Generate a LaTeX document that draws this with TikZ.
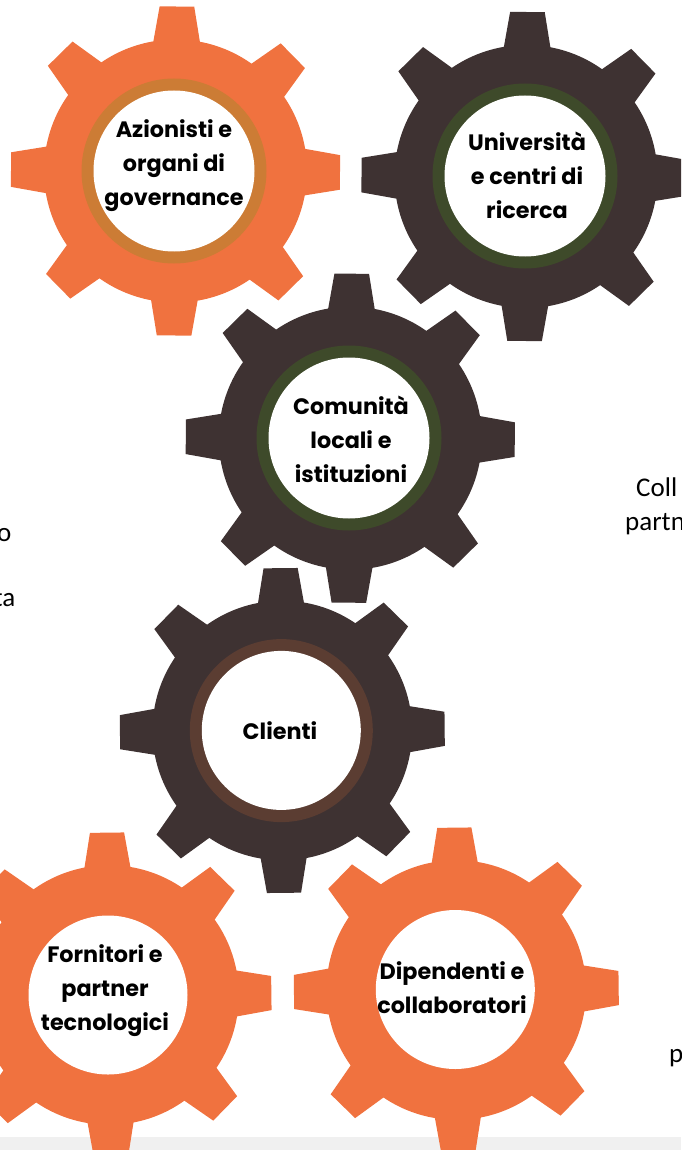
\documentclass[tikz,border=0pt]{standalone}
\usepackage{fontspec}
\setmainfont{Carlito}
\newfontfamily\labelfont{Poppins}[UprightFont=* Bold]
\definecolor{gearorange}{HTML}{F0723F}
\definecolor{geardark}{HTML}{3E3232}
\definecolor{ringamber}{HTML}{CC7C35}
\definecolor{ringgreen}{HTML}{3E4A2A}
\definecolor{ringbrown}{HTML}{5B3D32}
\definecolor{bandgrey}{HTML}{F0F0F0}
\tikzset{
  hub/.style={circle,fill=white,inner sep=0pt,minimum size=161pt},
  smallhub/.style={hub,minimum size=159pt},
  gearlabel/.style={font=\labelfont\fontsize{22.3}{34}\selectfont,align=center,inner sep=0pt,text=black},
  stray/.style={font=\fontsize{27}{27}\selectfont,text=black,inner sep=0pt},
}
\newcommand{\gearbody}[5]{%
  \begin{scope}[shift={(#1,#2)},rotate=#3,scale=#5]
    \fill[#4] (0,0) circle[radius=131.5pt];
    \foreach \a in {0,45,...,315}{
      \fill[#4,rotate=\a] (-23.5,-128) -- (-17.3,-164.5) -- (17.3,-164.5) -- (23.5,-128) -- cycle;
    }
  \end{scope}}
\begin{document}
\begin{tikzpicture}[x=1pt,y=-1pt]
\useasboundingbox (0,0) rectangle (681,1150);
\clip (0,0) rectangle (681,1150);
\fill[bandgrey] (0,1137) rectangle (681,1150);
\node[stray,anchor=base west] (t1) at (636,496) {Coll};
\node[stray,anchor=base west] (t2) at (625,530) {partn};
\node[stray,anchor=base east] (t3) at (11.5,541) {o};
\node[stray,anchor=base east] (t4) at (15.5,606) {ta};
\node[stray,anchor=base west] (t5) at (669,1062) {p};
\gearbody{526}{176.5}{-0.5}{geardark}{1}
\gearbody{175.5}{171}{-0.5}{gearorange}{1}
\gearbody{350.3}{438.2}{-0.5}{geardark}{1}
\gearbody{282.3}{730.5}{0.6}{geardark}{0.987}
\gearbody{109}{995}{0.7}{gearorange}{0.987}
\gearbody{456.3}{990}{0.7}{gearorange}{0.987}
\fill[ringamber] (174,171) circle[radius=92.5pt];
\fill[ringgreen] (525,176) circle[radius=92.5pt];
\fill[ringgreen] (349,438) circle[radius=92.5pt];
\fill[ringbrown] (281.3,730.6) circle[radius=91.5pt];
\node[hub] (n1) at (174,171) {};
\node[hub] (n2) at (525,176) {};
\node[hub] (n3) at (349,438) {};
\node[smallhub] (n4) at (281.3,730.4) {};
\node[smallhub] (n5) at (108,995) {};
\node[smallhub] (n6) at (455.3,989.5) {};
\node[gearlabel] (l1) at (174,165.2) {Azionisti e\\organi di\\governance};
\node[gearlabel] (l2) at (527,175.5) {Università\\e centri di\\ricerca};
\node[gearlabel] (l3) at (351,439) {Comunità\\locali e\\istituzioni};
\node[gearlabel] (l4) at (280,731) {Clienti};
\node[gearlabel] (l5) at (105,990.8) {Fornitori e\\partner\\tecnologici};
\node[gearlabel] (l6) at (452,988) {Dipendenti e\\collaboratori};
\end{tikzpicture}
\end{document}
